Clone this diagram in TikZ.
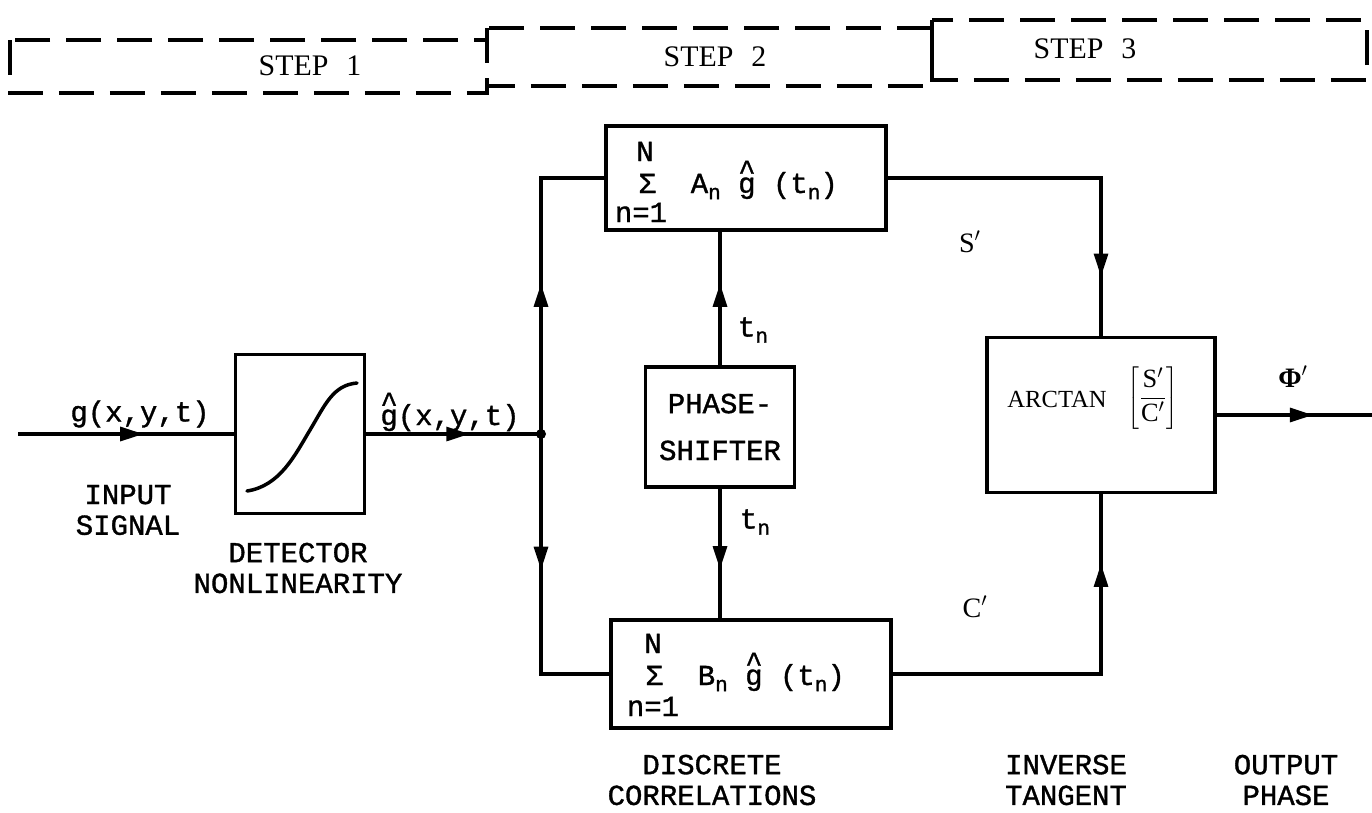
\documentclass[tikz,border=0pt]{standalone}
\usepackage{fontspec}
\setmainfont{Liberation Mono}[FakeBold=1.2]
\newfontfamily\serif{Liberation Serif}
\usetikzlibrary{arrows.meta,decorations.markings}
\newcommand\subn{\raisebox{-0.4ex}{\fontsize{12}{12}\selectfont n}}
\newcommand\ghat{\makebox[0pt][l]{\raisebox{0.45em}{\textasciicircum}}g}
\begin{document}
\begin{tikzpicture}[x=0.02cm,y=-0.02cm,line width=1.8pt,
  every node/.style={font=\fontsize{16.5}{17}\selectfont,inner sep=0pt},
  box/.style={draw,line width=1.8pt,inner sep=0pt},
  dashbox/.style={line width=1.8pt,dash pattern=on 0.7cm off 0.32cm},
  sertext/.style={font=\serif\fontsize{17}{17}\selectfont},
  twoline/.style={align=center,font=\fontsize{16.5}{17.5}\selectfont},
  midarr/.style={postaction={decorate},decoration={markings,
     mark=at position #1 with {\arrow{Triangle[length=0.46cm,width=0.28cm]}}}}]
\useasboundingbox (0,0) rectangle (1372,812);
\fill[white] (0,0) rectangle (1372,812);

% step strip
\draw[dashbox] (10,40) rectangle (487,93);
\draw[dashbox] (487,28) rectangle (932,86);
\draw[dashbox] (932,20) rectangle (1367,80);
\node[sertext] (st1) at (310,66) {STEP\hspace{0.6em}1};
\node[sertext] (st2) at (715,57) {STEP\hspace{0.6em}2};
\node[sertext] (st3) at (1085,49) {STEP\hspace{0.6em}3};

% blocks
\node[box,minimum width=2.58cm,minimum height=3.18cm] (det) at (300,434) {};
\node[box,minimum width=5.6cm,minimum height=2.08cm] (boxA) at (746,178) {};
\node[box,minimum width=5.6cm,minimum height=2.16cm] (boxB) at (751,674) {};
\node[box,minimum width=2.98cm,minimum height=2.4cm,align=center,font=\fontsize{16.5}{26.7}\selectfont] (ps) at (720,427) {PHASE-\\SHIFTER};
\node[box,minimum width=4.56cm,minimum height=3.1cm] (arc) at (1101,415) {};

% detector curve
\draw[line width=2pt,line cap=round] (247,491) .. controls (280,486) and (295,455) .. (310,430)
  .. controls (325,405) and (333,385) .. (357,383);

% box texts
\node[anchor=base] (aN) at (645,161) {N};
\node[anchor=base west] (aS) at (637,193) {Σ\ \ A\subn\ \ghat\ (t\subn)};
\node[anchor=base] (a1) at (641,222) {n=1};
\node[anchor=base] (bN) at (653,653) {N};
\node[anchor=base west] (bS) at (644,685) {Σ\ \ B\subn\ \ghat\ (t\subn)};
\node[anchor=base] (b1) at (653,716) {n=1};
\node[font=\serif\fontsize{14}{14}\selectfont] (arct) at (1057,399) {ARCTAN};
\node[font=\serif\fontsize{15}{15}\selectfont] (frac) at (1153,398)
  {$\displaystyle\left[\frac{\hbox{\serif S$'$}}{\hbox{\serif C$'$}}\right]$};

% connectors
\coordinate (in) at (18,434);
\coordinate (j) at (541,434);
\coordinate (out) at (1372,415);
\draw[midarr=0.58] (in) -- (det.west);
\draw[midarr=0.59] (det.east) -- (j);
\draw[midarr=0.47] (j) |- (boxA.west);
\draw[midarr=0.44] (j) |- (boxB.west);
\draw[midarr=0.61] (ps.north) -- (ps.north |- boxA.south);
\draw[midarr=0.62] (ps.south) -- (ps.south |- boxB.north);
\draw[midarr=0.84] (boxA.east) -| (arc.north);
\draw[midarr=0.82] (boxB.east) -| (arc.south);
\draw[midarr=0.62] (arc.east) -- (out);
\fill (j) circle[radius=0.1cm];

% labels
\node (lg) at (140,414) {g(x,y,t)};
\node (lgh) at (450,412) {\ghat(x,y,t)};
\node[twoline] (linp) at (128,510) {INPUT\\SIGNAL};
\node[twoline] (ldet) at (298,568) {DETECTOR\\NONLINEARITY};
\node (tn1) at (753,330) {t\subn};
\node (tn2) at (755,522) {t\subn};
\node[font=\serif\fontsize{16}{16}\selectfont] (ls) at (970,242) {S$'$};
\node[font=\serif\fontsize{16}{16}\selectfont] (lc) at (975,607) {C$'$};
\node[font=\serif\bfseries\fontsize{16}{16}\selectfont] (lphi) at (1293,377) {Φ$'$};
\node[twoline] (ldis) at (712,780) {DISCRETE\\CORRELATIONS};
\node[twoline] (linv) at (1066,780) {INVERSE\\TANGENT};
\node[twoline] (lout) at (1286,780) {OUTPUT\\PHASE};
\end{tikzpicture}
\end{document}
